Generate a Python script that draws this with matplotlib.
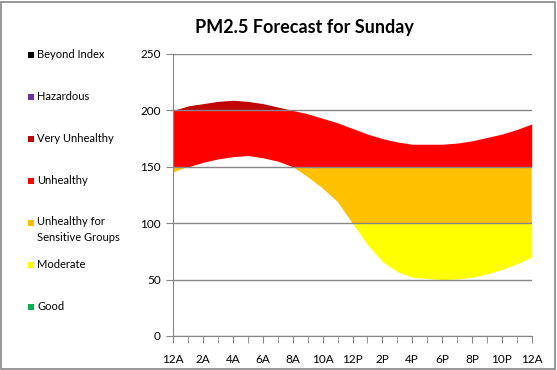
import numpy as np
import matplotlib
matplotlib.use("Agg")
import matplotlib.pyplot as plt
from matplotlib.patches import Rectangle

# -------------------------------
# Data
# -------------------------------
hours = list(range(25))
hour_labels = ["12A", "2A", "4A", "6A", "8A", "10A", "12P",
               "2P", "4P", "6P", "8P", "10P", "12A"]

upper = [200, 204, 206, 208, 209, 208, 206, 203, 200, 197, 193, 189, 184,
         179, 175, 172, 170, 170, 170, 171, 173, 176, 179, 183, 188]
lower = [145, 150, 154, 157, 159, 160, 158, 155, 150, 141, 131, 119, 100,
         81, 66, 57, 52, 51, 50, 50.5, 52, 55, 59, 64, 70]

categories = ["Good", "Moderate", "Unhealthy for\nSensitive Groups",
              "Unhealthy", "Very Unhealthy", "Hazardous", "Beyond Index"]
band_lo = [0, 50, 100, 150, 200, 300, 500]
band_hi = [50, 100, 150, 200, 300, 500, 1000]
band_colors = ["#00B050", "#FFFF00", "#FFC000", "#FF0000",
               "#C00000", "#7030A0", "#000000"]
legend_y = [307, 265, 223, 181, 139, 97, 55]  # pixel rows of legend entries

# -------------------------------
# Figure
# -------------------------------
W, H = 557, 370
fig = plt.figure(figsize=(W / 100, H / 100), dpi=100)
fig.patch.set_facecolor("white")
fig.patches.append(Rectangle((1 / W, 1 / H), (W - 3) / W, (H - 3) / H,
                             transform=fig.transFigure, fill=False,
                             edgecolor="#868686", linewidth=1.2))

font = "Lato"

ax = fig.add_axes([173.3 / W, (H - 336) / H, (531.7 - 173.3) / W, (336 - 54) / H])

# fill the forecast band, split by AQI category
x = np.array(hours)
lo = np.array(lower)
hi = np.array(upper)
for b0, b1, c in zip(band_lo, band_hi, band_colors):
    y1 = np.clip(lo, b0, b1)
    y2 = np.clip(hi, b0, b1)
    ax.fill_between(x, y1, y2, where=y2 > y1, interpolate=True,
                    color=c, linewidth=0, zorder=2)

ax.set_xlim(0, 24)
ax.set_ylim(0, 250)
ax.set_yticks(range(0, 251, 50))
ax.set_xticks(range(0, 25, 2))
ax.set_xticklabels(hour_labels)
ax.set_xticks(range(25), minor=True)
ax.yaxis.grid(True, color="#868686", linewidth=1, zorder=3)
ax.set_axisbelow(False)

for s in ["top", "right"]:
    ax.spines[s].set_visible(False)
for s in ["left", "bottom"]:
    ax.spines[s].set_color("#868686")
    ax.spines[s].set_zorder(4)

ax.tick_params(axis="y", direction="out", length=5, color="#868686",
               labelsize=8.5, pad=4)
ax.tick_params(axis="x", which="both", direction="out", length=5,
               color="#868686", labelsize=8.5, pad=8)
for lab in ax.get_xticklabels() + ax.get_yticklabels():
    lab.set_fontfamily(font)

fig.text(304.5 / W, 1 - 27 / H, "PM2.5 Forecast for Sunday", ha="center",
         va="center", fontsize=13, fontweight="bold", fontfamily=font)

# -------------------------------
# Legend on the left
# -------------------------------
for name, c, yp in zip(categories, band_colors, legend_y):
    fig.patches.append(Rectangle((28.3 / W, 1 - (yp + 3) / H), 6 / W, 6 / H,
                                 transform=fig.transFigure, facecolor=c,
                                 edgecolor="none"))
    if "\n" in name:
        fig.text(37 / W, 1 - (yp - 7) / H, name, ha="left", va="top",
                 fontsize=8, fontfamily=font, linespacing=1.6)
    else:
        fig.text(37 / W, 1 - yp / H, name, ha="left", va="center",
                 fontsize=8, fontfamily=font)

plt.savefig("out.png", dpi=100)
